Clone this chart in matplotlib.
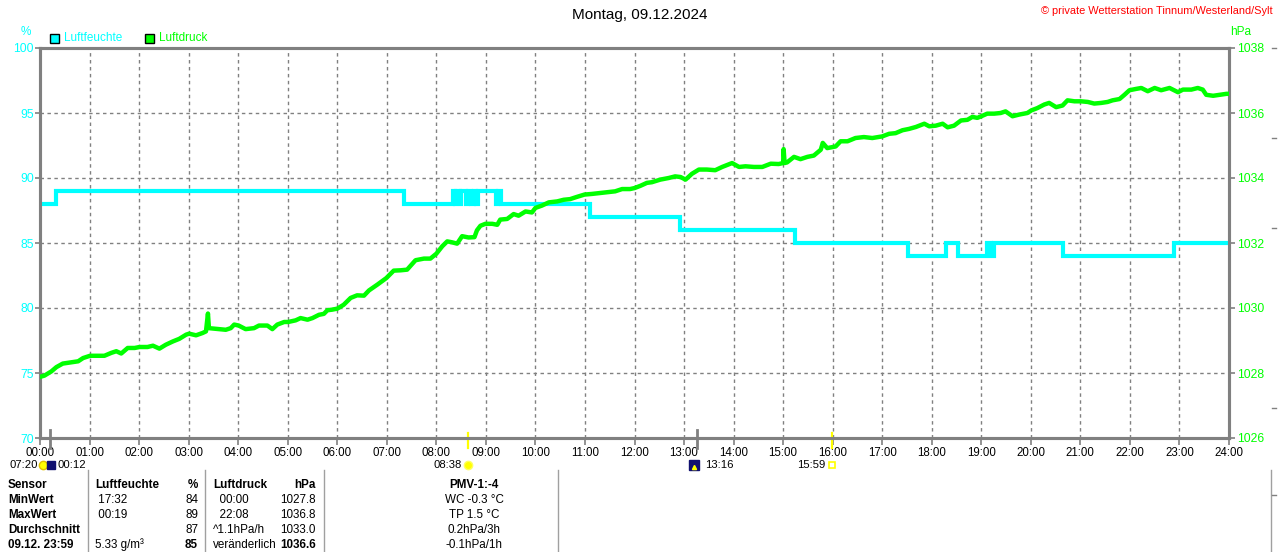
import matplotlib
matplotlib.use("Agg")
import matplotlib.pyplot as plt
from matplotlib.patches import Rectangle
from matplotlib.lines import Line2D
import matplotlib.transforms as mtransforms

plt.rcParams['font.family'] = ['Liberation Sans', 'DejaVu Sans']
plt.rcParams['lines.scale_dashes'] = False

# ---------------- data ----------------
title = "Montag, 09.12.2024"
copyright_txt = "\u00a9 private Wetterstation Tinnum/Westerland/Sylt"

hour_labels = [f"{h:02d}:00" for h in range(25)]
hum_ticks = [70, 75, 80, 85, 90, 95, 100]
pres_ticks = [1026, 1028, 1030, 1032, 1034, 1036, 1038]

# Luftfeuchte (%), step series: time (h) -> value from that time
hum_t = [0.00, 0.32, 7.35, 8.33, 8.37, 8.40, 8.47, 8.49, 8.60, 8.63, 8.70, 8.76,
         8.80, 8.84, 9.21, 9.24, 9.31, 11.10, 12.92, 15.24, 17.53, 18.29, 18.53,
         19.11, 19.19, 19.26, 20.64, 22.88, 24.00]
hum_v = [88, 89, 88, 89, 88, 89, 88, 89, 88, 89, 88, 89,
         88, 89, 88, 89, 88, 87, 86, 85, 84, 85, 84,
         85, 84, 85, 84, 85, 85]

# Luftdruck (hPa)
pres_t = [0.00, 0.09, 0.23, 0.33, 0.46, 0.63, 0.77, 0.87, 1.01, 1.17, 1.30, 1.44,
          1.54, 1.64, 1.77, 1.91, 2.01, 2.17, 2.28, 2.41, 2.54, 2.68, 2.81, 2.95,
          3.01, 3.15, 3.28, 3.35, 3.39, 3.41, 3.62, 3.75, 3.85, 3.92, 4.01, 4.15,
          4.32, 4.42, 4.59, 4.69, 4.79, 4.93, 5.01, 5.16, 5.26, 5.40, 5.50, 5.63,
          5.73, 5.80, 5.90, 6.00, 6.13, 6.27, 6.40, 6.54, 6.64, 6.81, 6.99, 7.14,
          7.28, 7.41, 7.58, 7.75, 7.88, 8.00, 8.12, 8.22, 8.32, 8.42, 8.52, 8.65,
          8.77, 8.82, 8.89, 8.99, 9.13, 9.23, 9.29, 9.43, 9.56, 9.66, 9.80, 9.93,
          10.00, 10.13, 10.27, 10.44, 10.57, 10.70, 10.84, 10.99, 11.14, 11.31,
          11.48, 11.61, 11.75, 11.91, 12.00, 12.12, 12.25, 12.35, 12.52, 12.69,
          12.82, 12.93, 13.03, 13.16, 13.30, 13.46, 13.63, 13.77, 13.97, 14.11,
          14.24, 14.41, 14.58, 14.75, 14.91, 15.00, 15.01, 15.03, 15.08, 15.22,
          15.35, 15.49, 15.62, 15.76, 15.80, 15.89, 16.06, 16.16, 16.30, 16.46,
          16.63, 16.80, 17.00, 17.14, 17.27, 17.41, 17.54, 17.68, 17.85, 17.95,
          18.08, 18.22, 18.32, 18.45, 18.59, 18.72, 18.82, 18.92, 19.00, 19.12,
          19.26, 19.39, 19.49, 19.63, 19.76, 19.93, 20.01, 20.13, 20.27, 20.37,
          20.51, 20.64, 20.74, 20.88, 21.01, 21.15, 21.28, 21.42, 21.55, 21.65,
          21.79, 21.89, 21.99, 22.12, 22.23, 22.36, 22.50, 22.63, 22.80, 22.97,
          23.07, 23.24, 23.37, 23.47, 23.54, 23.68, 23.81, 23.95, 24.00]
pres_v = [1027.88, 1027.92, 1028.05, 1028.18, 1028.29, 1028.33, 1028.36, 1028.46,
          1028.53, 1028.53, 1028.53, 1028.62, 1028.67, 1028.60, 1028.77, 1028.77,
          1028.80, 1028.80, 1028.84, 1028.75, 1028.87, 1028.97, 1029.05, 1029.18,
          1029.21, 1029.16, 1029.23, 1029.28, 1029.83, 1029.38, 1029.35, 1029.33,
          1029.38, 1029.49, 1029.46, 1029.35, 1029.38, 1029.46, 1029.46, 1029.35,
          1029.49, 1029.57, 1029.57, 1029.62, 1029.69, 1029.64, 1029.69, 1029.79,
          1029.82, 1029.93, 1029.95, 1029.98, 1030.10, 1030.31, 1030.39, 1030.38,
          1030.54, 1030.72, 1030.92, 1031.15, 1031.16, 1031.18, 1031.47, 1031.52,
          1031.52, 1031.67, 1031.90, 1032.05, 1032.02, 1031.98, 1032.21, 1032.17,
          1032.18, 1032.39, 1032.53, 1032.59, 1032.59, 1032.56, 1032.72, 1032.74,
          1032.89, 1032.84, 1032.97, 1032.94, 1033.08, 1033.15, 1033.25, 1033.28,
          1033.33, 1033.35, 1033.42, 1033.49, 1033.51, 1033.54, 1033.57, 1033.59,
          1033.66, 1033.66, 1033.69, 1033.76, 1033.85, 1033.87, 1033.95, 1034.00,
          1034.05, 1034.03, 1033.95, 1034.13, 1034.26, 1034.26, 1034.24, 1034.34,
          1034.46, 1034.34, 1034.36, 1034.34, 1034.34, 1034.44, 1034.43, 1034.46,
          1034.89, 1034.46, 1034.48, 1034.65, 1034.58, 1034.65, 1034.69, 1034.87,
          1035.08, 1034.92, 1034.97, 1035.13, 1035.13, 1035.23, 1035.26, 1035.23,
          1035.28, 1035.36, 1035.38, 1035.47, 1035.51, 1035.57, 1035.67, 1035.59,
          1035.61, 1035.67, 1035.56, 1035.61, 1035.77, 1035.79, 1035.88, 1035.85,
          1035.90, 1035.98, 1035.98, 1036.00, 1036.05, 1035.90, 1035.95, 1036.00,
          1036.08, 1036.15, 1036.26, 1036.31, 1036.18, 1036.23, 1036.39, 1036.36,
          1036.36, 1036.34, 1036.29, 1036.31, 1036.34, 1036.39, 1036.43, 1036.56,
          1036.70, 1036.74, 1036.77, 1036.67, 1036.77, 1036.70, 1036.77, 1036.64,
          1036.72, 1036.72, 1036.77, 1036.72, 1036.56, 1036.53, 1036.56, 1036.59,
          1036.59]

# Sun / moon events (h)
sunrise_h, sunset_h = 8 + 38 / 60, 15 + 59 / 60
moonset_h, moonrise_h = 0 + 12 / 60, 13 + 16 / 60

# Statistics table
table_rows = [
    ["Sensor", "Luftfeuchte", "%", "Luftdruck", "hPa", "PMV-1:-4"],
    ["MinWert", " 17:32", "84", "  00:00", "1027.8", "WC -0.3 \u00b0C"],
    ["MaxWert", " 00:19", "89", "  22:08", "1036.8", "TP 1.5 \u00b0C"],
    ["Durchschnitt", "", "87", "^1.1hPa/h", "1033.0", "0.2hPa/3h"],
    ["09.12. 23:59", "5.33 g/m\u00b3", "85", "ver\u00e4nderlich", "1036.6", "-0.1hPa/1h"],
]

# ---------------- styling ----------------
W, H = 1280, 552
CYAN = "#00FFFF"
GREEN = "#00FF00"
GRAY = "#808080"


def fx(px):
    return px / W


def fy(py):
    return 1 - py / H


fig = plt.figure(figsize=(W / 100, H / 100), dpi=100)
fig.patch.set_facecolor("white")
ax = fig.add_axes([fx(40), fy(438), 1189 / W, 390 / H])
ax2 = ax.twinx()

# humidity
ax.plot(hum_t, hum_v, drawstyle="steps-post", color=CYAN, lw=3.0,
        solid_joinstyle="miter", zorder=3)
ax.set_xlim(0, 24)
ax.set_ylim(70, 100)
ax.set_xticks(range(25))
ax.set_xticklabels(hour_labels)
ax.set_yticks(hum_ticks)
ax.set_yticklabels([str(v) for v in hum_ticks])
ax.grid(True, color=GRAY, lw=1.0, linestyle=(0, (2.5, 2.5)))
ax.set_axisbelow(True)

# pressure
ax2.plot(pres_t, pres_v, color=GREEN, lw=3.2, zorder=3)
ax2.set_ylim(1026, 1038)
ax2.set_yticks(pres_ticks)
ax2.set_yticklabels([str(v) for v in pres_ticks])

for a in (ax, ax2):
    for s in a.spines.values():
        s.set_color(GRAY)
        s.set_linewidth(2.2)

ax.tick_params(axis="x", direction="out", length=5, width=1.2, color=GRAY,
               labelsize=8.3, labelcolor="black", pad=1.5)
ax.tick_params(axis="y", direction="out", length=3.5, width=1.2, color=GRAY,
               labelsize=8.8, labelcolor=CYAN, pad=1)
ax2.tick_params(axis="y", direction="out", length=4, width=1.2, color=GRAY,
                labelsize=8.8, labelcolor=GREEN, pad=1.5)

# title & header texts
fig.text(fx(640), fy(15), title, ha="center", va="center", fontsize=11, color="black")
fig.text(fx(1273), fy(11), copyright_txt, ha="right", va="center", fontsize=7.9, color="#FF0000")
fig.text(fx(26), fy(32), "%", ha="center", va="center", fontsize=8.5, color=CYAN)
fig.text(fx(1230), fy(32), "hPa", ha="left", va="center", fontsize=8.5, color=GREEN)

# legend
fig.add_artist(Rectangle((fx(50), fy(43)), 9 / W, 9 / H, transform=fig.transFigure,
                         facecolor=CYAN, edgecolor="black", lw=1))
fig.text(fx(64), fy(38), "Luftfeuchte", ha="left", va="center", fontsize=8.5, color=CYAN)
fig.add_artist(Rectangle((fx(145), fy(43)), 9 / W, 9 / H, transform=fig.transFigure,
                         facecolor=GREEN, edgecolor="black", lw=1))
fig.text(fx(159), fy(38), "Luftdruck", ha="left", va="center", fontsize=8.5, color=GREEN)

# sun / moon markers below the x axis
trans = mtransforms.blended_transform_factory(ax.transData, ax.transAxes)
for h in (sunrise_h, sunset_h):
    ax.plot([h, h], [0.013, -0.026], transform=trans, color="#FFFF00", lw=1.6,
            clip_on=False, zorder=5)
for h in (moonset_h, moonrise_h):
    ax.plot([h, h], [0.02, -0.026], transform=trans, color=GRAY, lw=2.0,
            clip_on=False, zorder=5)
yrow = -0.07
fs_row = 8.1
ax.text(-0.04, yrow, "07:20", transform=trans, ha="right", va="center", fontsize=fs_row)
ax.plot([0.07], [yrow], transform=trans, marker="o", ms=6, color="#FFFF00",
        mec="#E0C000", clip_on=False)
ax.plot([0.22], [yrow], transform=trans, marker="s", ms=6, color="#101070",
        clip_on=False)
ax.text(0.35, yrow, "00:12", transform=trans, ha="left", va="center", fontsize=fs_row)
ax.text(sunrise_h - 0.13, yrow, "08:38", transform=trans, ha="right", va="center", fontsize=fs_row)
ax.plot([sunrise_h], [yrow], transform=trans, marker="o", ms=6, color="#FFFF00",
        mec="#FFFF60", clip_on=False)
ax.plot([moonrise_h - 0.07], [yrow], transform=trans, marker="s", ms=7, color="#101070",
        clip_on=False)
ax.plot([moonrise_h - 0.07], [yrow - 0.005], transform=trans, marker="^", ms=3,
        color="#FFFF00", clip_on=False)
ax.text(moonrise_h + 0.15, yrow, "13:16", transform=trans, ha="left", va="center", fontsize=fs_row)
ax.text(sunset_h - 0.13, yrow, "15:59", transform=trans, ha="right", va="center", fontsize=fs_row)
ax.plot([sunset_h], [yrow], transform=trans, marker="s", ms=4, mfc="none",
        mec="#FFFF00", mew=1.2, clip_on=False)

# statistics table
row_y = [485, 500, 515, 530, 545]
col_x = [8, 95, 198, 213, 316, 474]
col_ha = ["left", "left", "right", "left", "right", "center"]
bold_cells = {(4, 2), (4, 4)}
for r, row in enumerate(table_rows):
    for c, txt in enumerate(row):
        bold = r == 0 or c == 0 or (r, c) in bold_cells
        fig.text(fx(col_x[c]), fy(row_y[r]), txt, ha=col_ha[c], va="center",
                 fontsize=8.4, fontweight="bold" if bold else "normal", color="black")
for xs in (88, 205, 324, 558):
    fig.add_artist(Line2D([fx(xs), fx(xs)], [fy(470), fy(552)], transform=fig.transFigure,
                          color="#A0A0A0", lw=1))

# remnants of neighbouring chart on the right edge
fig.add_artist(Line2D([fx(1271), fx(1271)], [fy(470), fy(552)], transform=fig.transFigure,
                      color="#A0A0A0", lw=1))
for yy in (48, 138, 228, 408, 495):
    fig.add_artist(Line2D([fx(1272), fx(1276)], [fy(yy), fy(yy)], transform=fig.transFigure,
                          color=GRAY, lw=1))

fig.savefig("out.png", dpi=100, facecolor="white")
